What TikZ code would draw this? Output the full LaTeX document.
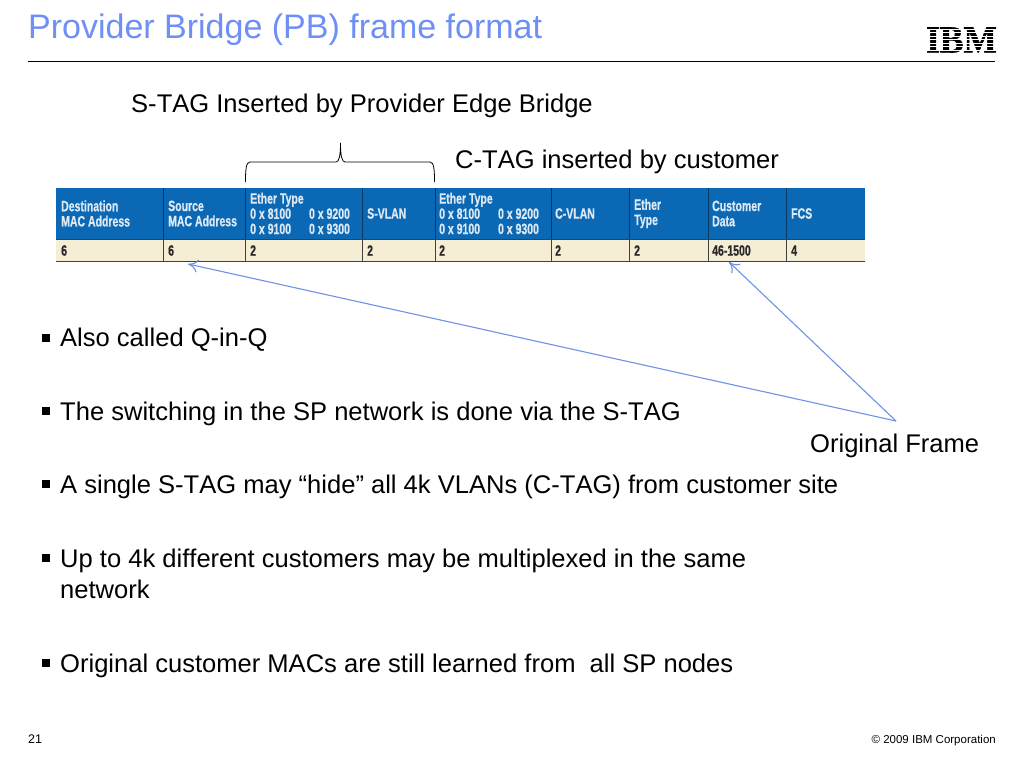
\documentclass[tikz,border=0pt]{standalone}
\usepackage{fontspec}
\setmainfont[Kerning=Off,Ligatures=NoCommon]{Liberation Sans}
\newfontfamily\tblfont[FakeStretch=0.70,FakeBold=0.6]{Liberation Sans Bold}
\newfontfamily\logofont[FakeBold=1.5]{Liberation Serif Bold}
\definecolor{titleblue}{HTML}{6F8FF5}
\definecolor{arrowblue}{HTML}{7092E6}
\definecolor{hdrblue}{HTML}{0A68B4}
\definecolor{rowcream}{HTML}{F6EDD5}
\definecolor{rowtext}{HTML}{2A2A2A}
\definecolor{hdrtext}{HTML}{DCE9F5}
\tikzset{
  body/.style={anchor=base west,inner sep=0pt,font=\fontsize{25.55}{29}\selectfont,text=black},
  hdr/.style={anchor=west,inner sep=0pt,align=left,text=hdrtext,font=\tblfont\fontsize{15}{15.2}\selectfont},
  val/.style={anchor=west,inner sep=0pt,text=rowtext,font=\tblfont\fontsize{15}{15}\selectfont},
  bul/.style={rectangle,fill=black,inner sep=0pt,minimum size=7.5pt},
  arr/.style={draw=arrowblue,line width=1.1pt,-{To[length=10pt,width=13pt]}},
  cellline/.style={draw=black!75,line width=0.7pt},
  hdrline/.style={draw=black!45!hdrblue,line width=0.7pt}
}
\usetikzlibrary{arrows.meta}
\begin{document}
\begin{tikzpicture}[x=1pt,y=-1pt]
\useasboundingbox (0,0) rectangle (1024,768);
\fill[white] (0,0) rectangle (1024,768);
% title
\node[anchor=base west,inner sep=0pt,text=titleblue,font=\fontsize{34}{38}\selectfont] (title) at (28,38) {Provider Bridge (PB) frame format};
\draw[black,line width=1pt] (28,61.5) -- (995,61.5);
% logo
\node[anchor=center,inner sep=0pt,font=\logofont\fontsize{38}{38}\selectfont] (logo) at (961.5,40) {\scalebox{0.93}[1]{IBM}};
\foreach \y in {29.5,33,36.5,40,43.5,47,50.5}
  \draw[white,line width=1pt] (925,\y) -- (999,\y);
% table
\fill[hdrblue] (56,188) rectangle (865,239);
\fill[rowcream] (56,239) rectangle (865,261);
\draw[cellline] (56,239) -- (865,239);
\draw[cellline] (56,261) -- (865,261);
\foreach \x in {163,245,362,435,551,629,708,786}{
  \draw[hdrline] (\x,188) -- (\x,239);
  \draw[cellline] (\x,239) -- (\x,261);
}
\node[hdr] (h1) at (61,213.5) {Destination\\MAC Address};
\node[hdr] (h2) at (168,213.5) {Source\\MAC Address};
\node[hdr] (h3) at (250,213.5) {Ether Type\\0 x 8100\hspace{18pt}0 x 9200\\0 x 9100\hspace{18pt}0 x 9300};
\node[hdr] (h4) at (367,213.5) {S-VLAN};
\node[hdr] (h5) at (439,213.5) {Ether Type\\0 x 8100\hspace{18pt}0 x 9200\\0 x 9100\hspace{18pt}0 x 9300};
\node[hdr] (h6) at (555,213.5) {C-VLAN};
\node[hdr] (h7) at (634,213.5) {Ether\\Type};
\node[hdr] (h8) at (712,213.5) {Customer\\Data};
\node[hdr] (h9) at (791,213.5) {FCS};
\node[val] (v1) at (61,250.5) {6};
\node[val] (v2) at (168,250.5) {6};
\node[val] (v3) at (250,250.5) {2};
\node[val] (v4) at (367,250.5) {2};
\node[val] (v5) at (439,250.5) {2};
\node[val] (v6) at (555,250.5) {2};
\node[val] (v7) at (634,250.5) {2};
\node[val] (v8) at (712,250.5) {46-1500};
\node[val] (v9) at (791,250.5) {4};
% labels
\node[body] (stag) at (131,112) {S-TAG Inserted by Provider Edge Bridge};
\node[body] (ctag) at (455,168) {C-TAG inserted by customer};
\node[body] (orig) at (810,452) {Original Frame};
% brace
\coordinate (bl) at (245.5,182);
\coordinate (br) at (434.5,182);
\coordinate (bt) at (340.5,143);
\draw[black,line width=0.8pt] (bl) .. controls (245.5,170) and (246,162) .. (250,162) -- (336,162)
  .. controls (339,162) and (340.5,156) .. (bt)
  .. controls (340.5,156) and (342,162) .. (345,162) -- (430,162)
  .. controls (434,162) and (434.5,170) .. (br);
% arrows
\coordinate (frm) at (896,421);
\coordinate (tipa) at (188,264);
\coordinate (tipb) at (729,262);
\draw[arr] (frm) -- (tipa);
\draw[arr] (frm) -- (tipb);
% bullets
\foreach \n/\y in {1/338,2/411,3/484,4/558,5/663}
  \node[bul] (b\n) at (46,\y) {};
\node[body] (t1) at (60,346) {Also called Q-in-Q};
\node[body] (t2) at (60,420) {The switching in the SP network is done via the S-TAG};
\node[body] (t3) at (60,493.5) {A single S-TAG may “hide” all 4k VLANs (C-TAG) from customer site};
\node[body] (t4) at (60,567.5) {Up to 4k different customers may be multiplexed in the same};
\node[body] (t4b) at (60,598.5) {network};
\node[body] (t5) at (60,672) {Original customer MACs are still learned from\ \ all SP nodes};
% footer
\node[anchor=base west,inner sep=0pt,font=\fontsize{12.5}{15}\selectfont] (pg) at (28,743) {21};
\node[anchor=base east,inner sep=0pt,font=\fontsize{11.5}{13}\selectfont] (copy) at (996,743) {© 2009 IBM Corporation};
\end{tikzpicture}
\end{document}
